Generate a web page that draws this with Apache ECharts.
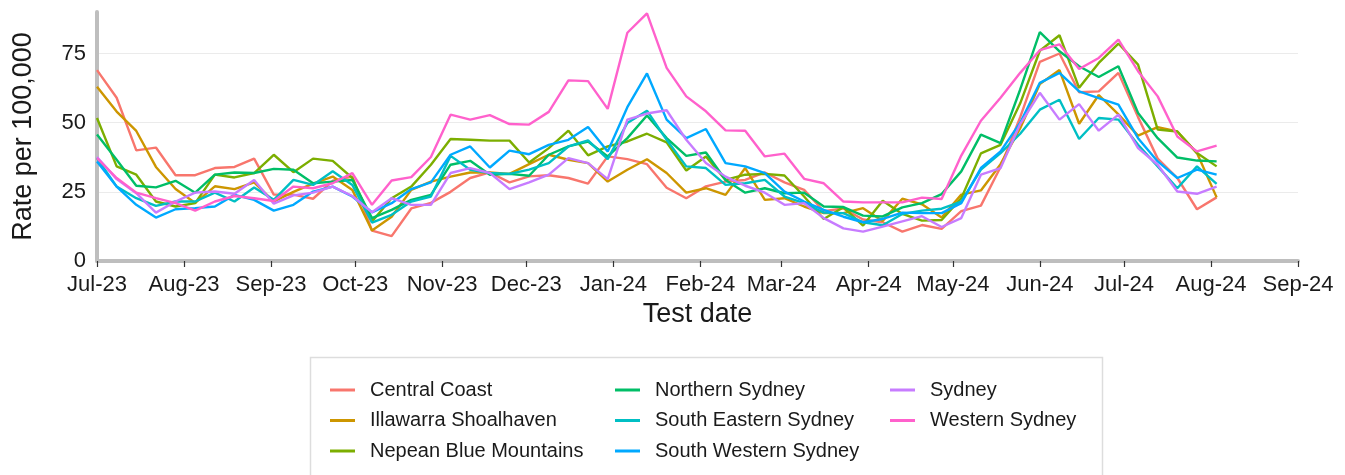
<!DOCTYPE html>
<html>
<head>
<meta charset="utf-8">
<script src="https://cdn.jsdelivr.net/npm/echarts@6/dist/echarts.min.js"></script>
<style>
html,body{margin:0;padding:0;background:#fff;}
#chart{width:1345px;height:475px;}
</style>
</head>
<body>
<div id="chart"></div>
<script>
const weekDates = ['2023-07-01','2023-07-08','2023-07-15','2023-07-22','2023-07-29',
 '2023-08-05','2023-08-12','2023-08-19','2023-08-26',
 '2023-09-02','2023-09-09','2023-09-16','2023-09-23','2023-09-30',
 '2023-10-07','2023-10-14','2023-10-21','2023-10-28',
 '2023-11-04','2023-11-11','2023-11-18','2023-11-25',
 '2023-12-02','2023-12-09','2023-12-16','2023-12-23','2023-12-30',
 '2024-01-06','2024-01-13','2024-01-20','2024-01-27',
 '2024-02-03','2024-02-10','2024-02-17','2024-02-24',
 '2024-03-02','2024-03-09','2024-03-16','2024-03-23','2024-03-30',
 '2024-04-06','2024-04-13','2024-04-20','2024-04-27',
 '2024-05-04','2024-05-11','2024-05-18','2024-05-25',
 '2024-06-01','2024-06-08','2024-06-15','2024-06-22','2024-06-29',
 '2024-07-06','2024-07-13','2024-07-20','2024-07-27',
 '2024-08-03'];

const monthTickDates = ['2023-07-01','2023-08-01','2023-09-01','2023-10-01','2023-11-01','2023-12-01',
 '2024-01-01','2024-02-01','2024-03-01','2024-04-01','2024-05-01','2024-06-01','2024-07-01','2024-08-01','2024-09-01'];
const monthTickLabels = ['Jul-23','Aug-23','Sep-23','Oct-23','Nov-23','Dec-23','Jan-24','Feb-24','Mar-24','Apr-24','May-24','Jun-24','Jul-24','Aug-24','Sep-24'];

const yTicks = [0, 25, 50, 75];

const seriesNames = ['Central Coast','Illawarra Shoalhaven','Nepean Blue Mountains','Northern Sydney',
 'South Eastern Sydney','South Western Sydney','Sydney','Western Sydney'];

const centralCoast = [69,59,40,41,31,31,33.6,34,37,24,24,22.5,29,30.5,11,9,19,21,25,30,32,28.4,30.6,31,30,28,37.8,36.8,35,26.5,22.7,27,28.7,29.3,32,28.4,25.7,18,19,15,14,10.6,13,11.6,18,20,34,52,72,75,61,61.3,68,52,37,30,18.7,23];
const illawarra = [63,54,47,34,26,21,27,26,28.4,21.5,25,28,30.5,25.7,11,16,25.7,28.7,30.5,32,32,31.5,35,38.4,36.6,35.4,28.7,33,36.8,31.8,24.7,26.3,23.9,33.6,22.1,22.7,19.7,17.3,17.3,19.1,14.5,22.5,20.5,15.7,24,25.5,35,48,64,69,49.6,60,53,45.3,48.4,46.8,39,23];
const nepean = [51.7,34.2,31.2,21.5,19.7,20.9,31.2,30.2,31.8,38.4,32.1,37,36.2,30,14.3,22.7,26.9,34.8,44.1,43.8,43.5,43.5,35.6,40.8,47.1,38.2,41.4,43.2,46,42.9,32.7,37.8,29.3,31.2,31.5,30.9,23.3,15.2,19.4,12.8,21.8,17,14.6,14.8,22.7,38.9,42,57,76,81.6,62.6,71.6,78.6,71,47.5,46.8,39,34.2];
const northernSydney = [45.7,36.6,27.2,26.6,29,24.7,31.2,32,31.8,33.3,33,28.1,28.7,29.3,15.5,18.5,22.1,23.9,34.8,36.2,31.2,31.5,30.8,38.4,41.4,43.2,37.8,44.4,52.6,44.4,38,39.2,29.3,24.7,26.3,24.5,24.7,19.7,19.5,16.4,16.1,19.4,20.9,24.2,32.4,45.7,42.6,62,82.7,75.8,70.4,66.5,70.4,53.5,44.4,37.4,36.3,36];
const southEastern = [37.2,26.9,22.7,19.9,21.5,21.5,24.7,21.5,26.6,22.1,29.3,27.5,32.4,27.5,13.9,16.7,21.5,23.3,38,33,31.8,31.5,33,35.4,41.4,43.6,36.8,49.9,54.3,43.8,34.2,33.6,27.5,28.1,29.3,23.3,20.9,17.5,17.3,14,12.9,17,18.2,18.9,21.5,33,39,46,54.7,58.3,44.1,51.7,51.1,42,34.2,26.3,34.2,27.9];
const southWestern = [36,26.9,20.3,15.7,18.7,19.1,19.7,23.9,22.1,18.2,20.3,25.1,26.9,23.3,17.6,20.9,26,28.4,38.4,41.4,33.8,39.9,38.6,42,43.8,48.4,39.6,55.6,67.8,51.1,44.4,47.7,35.4,34.2,31.8,25.1,21.5,18.5,16,14,15.2,17.5,17.3,17.3,20.9,33.6,39.6,50,64.4,68,61.3,58.9,56.5,44.4,36,30,33,31.2];
const sydney = [37.6,29.6,24.5,17.5,21.5,24.7,25.1,24.3,29.3,20.7,23.7,24.7,26.9,23.5,17.6,22.7,20.3,20.3,31.8,33.6,31.8,26,28.4,31.2,37.2,35.4,29.6,51.1,53.3,54.5,43.8,35.4,30.5,27.2,24.7,20.3,20.9,15.5,11.8,10.6,12.4,14.3,16.2,12.3,15.5,31.2,33.6,49.5,60.8,51.1,56.7,47.1,52.9,40.8,34.8,25.1,24.3,26.9];
const westernSydney = [37.2,30,24.7,22.7,20.9,18.2,21.5,23.5,22.7,21.7,26.9,26.3,28.1,31.8,20.3,29.1,30.3,37.6,52.9,51.1,52.7,49.5,49.3,53.9,65.3,65,55,82.5,89.5,69.8,59.5,54.1,47.2,47.1,37.8,38.8,29.7,28.1,21.5,21.2,21.2,21.2,22.9,22.4,38.1,50.7,59,68,76.2,78.3,69.4,73.4,80,68.6,59.5,45,39.6,41.7];

const seriesValues = [centralCoast, illawarra, nepean, northernSydney, southEastern, southWestern, sydney, westernSydney];
const seriesColors = ['#F8766D','#CD9600','#7CAE00','#00BE67','#00BFC4','#00A9FF','#C77CFF','#FF61CC'];

function toUTC(s){ const p = s.split('-').map(Number); return Date.UTC(p[0], p[1]-1, p[2]); }
const weekTs = weekDates.map(toUTC);
const monthTs = monthTickDates.map(toUTC);

const FONT = "'Liberation Sans', Arial, sans-serif";

const chart = echarts.init(document.getElementById('chart'), null, {renderer:'canvas'});

const series = seriesNames.map((name, k) => ({
  name: name,
  type: 'line',
  data: seriesValues[k].map((v, i) => [weekTs[i], v]),
  showSymbol: false,
  symbol: 'none',
  lineStyle: {width: 2.4, color: seriesColors[k]},
  itemStyle: {color: seriesColors[k]},
  animation: false,
  z: 2
}));

function legendCol(names, left){
  return {
    data: names,
    orient: 'vertical',
    left: left,
    top: 380,
    icon: 'rect',
    itemWidth: 25,
    itemHeight: 3,
    itemGap: 10.5,
    padding: 0,
    textStyle: {fontFamily: FONT, fontSize: 20, color: '#1a1a1a', lineHeight: 20, padding: [0,0,0,10]}
  };
}

chart.setOption({
  animation: false,
  backgroundColor: '#ffffff',
  color: seriesColors,
  grid: {left: 97, right: 47, top: 12, bottom: 214, containLabel: false, outerBoundsMode: 'none'},
  xAxis: {
    type: 'value',
    min: monthTs[0],
    max: monthTs[monthTs.length-1],
    name: 'Test date',
    nameLocation: 'middle',
    nameGap: 39,
    nameTextStyle: {fontFamily: FONT, fontSize: 27, color: '#1a1a1a'},
    axisLine: {show: true, onZero: false, lineStyle: {color: '#BEBEBE', width: 4}},
    axisTick: {show: true, customValues: monthTs, length: 6, lineStyle: {color: '#333333', width: 1.2}},
    axisLabel: {
      customValues: monthTs,
      fontFamily: FONT, fontSize: 22, color: '#1a1a1a', margin: 13,
      formatter: function(v){ const idx = monthTs.indexOf(v); return idx >= 0 ? monthTickLabels[idx] : ''; }
    },
    splitLine: {show: false}
  },
  yAxis: {
    type: 'value',
    min: 0,
    max: 90,
    name: 'Rate per 100,000',
    nameLocation: 'middle',
    nameRotate: 90,
    nameGap: 60,
    nameTextStyle: {fontFamily: FONT, fontSize: 27, color: '#1a1a1a'},
    axisLine: {show: true, lineStyle: {color: '#BEBEBE', width: 4}},
    axisTick: {show: false},
    axisLabel: {
      customValues: yTicks,
      fontFamily: FONT, fontSize: 22, color: '#1a1a1a', margin: 11
    },
    splitLine: {show: true, lineStyle: {color: ['rgba(0,0,0,0)','#EBEBEB','#EBEBEB','#EBEBEB','rgba(0,0,0,0)'], width: 1.2}},
    interval: 25
  },
  legend: [
    legendCol(seriesNames.slice(0,3), 330),
    legendCol(seriesNames.slice(3,6), 615),
    legendCol(seriesNames.slice(6,8), 890)
  ],
  graphic: [{
    type: 'rect',
    shape: {x: 310.5, y: 357.5, width: 792, height: 140},
    style: {fill: 'none', stroke: '#DDDDDD', lineWidth: 1.5},
    silent: true,
    z: -1
  }],
  series: series
});
</script>
</body>
</html>
